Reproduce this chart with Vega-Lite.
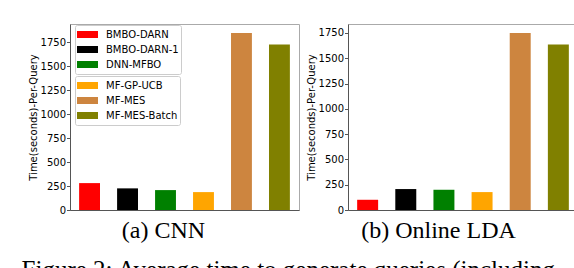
{
  "$schema": "https://vega.github.io/schema/vega-lite/v6.json",
  "background": "white",
  "padding": {"left": 21, "top": 23, "right": 0, "bottom": 0},
  "datasets": {
    "times": [
      {"task": "CNN", "method": "BMBO-DARN", "time": 281},
      {"task": "CNN", "method": "BMBO-DARN-1", "time": 226},
      {"task": "CNN", "method": "DNN-MFBO", "time": 208},
      {"task": "CNN", "method": "MF-GP-UCB", "time": 187},
      {"task": "CNN", "method": "MF-MES", "time": 1850},
      {"task": "CNN", "method": "MF-MES-Batch", "time": 1729},
      {"task": "Online LDA", "method": "BMBO-DARN", "time": 101},
      {"task": "Online LDA", "method": "BMBO-DARN-1", "time": 207},
      {"task": "Online LDA", "method": "DNN-MFBO", "time": 200},
      {"task": "Online LDA", "method": "MF-GP-UCB", "time": 177},
      {"task": "Online LDA", "method": "MF-MES", "time": 1750},
      {"task": "Online LDA", "method": "MF-MES-Batch", "time": 1635}
    ]
  },
  "title": {
    "text": "Figure 2: Average time to generate queries (including",
    "orient": "bottom",
    "anchor": "start",
    "font": "Liberation Serif",
    "fontSize": 25,
    "fontWeight": "normal",
    "color": "black",
    "offset": 15,
    "dx": -6
  },
  "config": {
    "view": {"stroke": "#aaaaaa", "strokeWidth": 1},
    "axis": {
      "domainColor": "#555555",
      "tickColor": "#555555",
      "labelFont": "DejaVu Sans",
      "labelFontSize": 10,
      "labelColor": "black",
      "titleFont": "DejaVu Sans",
      "titleFontWeight": "normal",
      "titleColor": "black",
      "grid": false
    },
    "concat": {"spacing": 5}
  },
  "resolve": {"scale": {"color": "independent"}, "legend": {"color": "independent"}},
  "hconcat": [
    {
      "width": 229,
      "height": 186,
      "data": {"name": "times"},
      "transform": [{"filter": "datum.task === 'CNN'"}],
      "encoding": {
        "x": {
          "field": "method",
          "type": "nominal",
          "sort": null,
          "scale": {
            "domain": ["BMBO-DARN", "BMBO-DARN-1", "DNN-MFBO", "MF-GP-UCB", "MF-MES", "MF-MES-Batch"],
            "paddingInner": 0.45,
            "paddingOuter": 0.24
          },
          "axis": {
            "labels": false,
            "ticks": false,
            "title": "(a) CNN",
            "titleFont": "Liberation Serif",
            "titleFontSize": 24,
            "titlePadding": 8,
            "titleX": 93,
            "titleAlign": "center"
          }
        },
        "y": {
          "field": "time",
          "type": "quantitative",
          "scale": {"domain": [0, 1943], "nice": false},
          "axis": {
            "values": [0, 250, 500, 750, 1000, 1250, 1500, 1750],
            "format": "d",
            "title": "Time(seconds)-Per-Query",
            "titleFontSize": 10,
            "tickSize": 3.5,
            "labelPadding": 1,
            "titlePadding": 2
          }
        }
      },
      "layer": [
        {
          "transform": [{"filter": "indexof(['BMBO-DARN','BMBO-DARN-1','DNN-MFBO'], datum.method) >= 0"}],
          "mark": {"type": "bar"},
          "encoding": {
            "color": {
              "field": "method",
              "type": "nominal",
              "scale": {"domain": ["BMBO-DARN", "BMBO-DARN-1", "DNN-MFBO"], "range": ["#ff0000", "#000000", "#008000"]},
              "legend": {
                "orient": "none",
                "legendX": 5,
                "legendY": 1,
                "title": null,
                "strokeColor": "#cccccc",
                "fillColor": "white",
                "cornerRadius": 2,
                "padding": 2,
                "symbolType": "M-1,-0.33H1V0.33H-1Z",
                "symbolSize": 441,
                "symbolStrokeWidth": 0,
                "labelFont": "DejaVu Sans",
                "labelFontSize": 10,
                "labelColor": "black",
                "labelOffset": 8,
                "clipHeight": 15,
                "rowPadding": 0
              }
            }
          }
        },
        {
          "transform": [{"filter": "indexof(['MF-GP-UCB','MF-MES','MF-MES-Batch'], datum.method) >= 0"}],
          "mark": {"type": "bar"},
          "encoding": {
            "color": {
              "field": "method",
              "type": "nominal",
              "scale": {"domain": ["MF-GP-UCB", "MF-MES", "MF-MES-Batch"], "range": ["#ffa500", "#cd853f", "#808000"]},
              "legend": {
                "orient": "none",
                "legendX": 5,
                "legendY": 52,
                "title": null,
                "strokeColor": "#cccccc",
                "fillColor": "white",
                "cornerRadius": 2,
                "padding": 2,
                "symbolType": "M-1,-0.33H1V0.33H-1Z",
                "symbolSize": 441,
                "symbolStrokeWidth": 0,
                "labelFont": "DejaVu Sans",
                "labelFontSize": 10,
                "labelColor": "black",
                "labelOffset": 8,
                "clipHeight": 15,
                "rowPadding": 0
              }
            }
          }
        }
      ],
      "resolve": {"scale": {"color": "independent"}, "legend": {"color": "independent"}}
    },
    {
      "width": 230,
      "height": 186,
      "data": {"name": "times"},
      "transform": [{"filter": "datum.task === 'Online LDA'"}],
      "mark": {"type": "bar"},
      "encoding": {
        "x": {
          "field": "method",
          "type": "nominal",
          "sort": null,
          "scale": {
            "domain": ["BMBO-DARN", "BMBO-DARN-1", "DNN-MFBO", "MF-GP-UCB", "MF-MES", "MF-MES-Batch"],
            "paddingInner": 0.45,
            "paddingOuter": 0.24
          },
          "axis": {
            "labels": false,
            "ticks": false,
            "title": "(b) Online LDA",
            "titleFont": "Liberation Serif",
            "titleFontSize": 24,
            "titlePadding": 8,
            "titleX": 90,
            "titleAlign": "center"
          }
        },
        "y": {
          "field": "time",
          "type": "quantitative",
          "scale": {"domain": [0, 1838], "nice": false},
          "axis": {
            "values": [0, 250, 500, 750, 1000, 1250, 1500, 1750],
            "format": "d",
            "title": "Time(seconds)-Per-Query",
            "titleFontSize": 10,
            "tickSize": 3.5,
            "labelPadding": 1,
            "titlePadding": 2
          }
        },
        "color": {
          "field": "method",
          "type": "nominal",
          "scale": {
            "domain": ["BMBO-DARN", "BMBO-DARN-1", "DNN-MFBO", "MF-GP-UCB", "MF-MES", "MF-MES-Batch"],
            "range": ["#ff0000", "#000000", "#008000", "#ffa500", "#cd853f", "#808000"]
          },
          "legend": null
        }
      }
    }
  ]
}
